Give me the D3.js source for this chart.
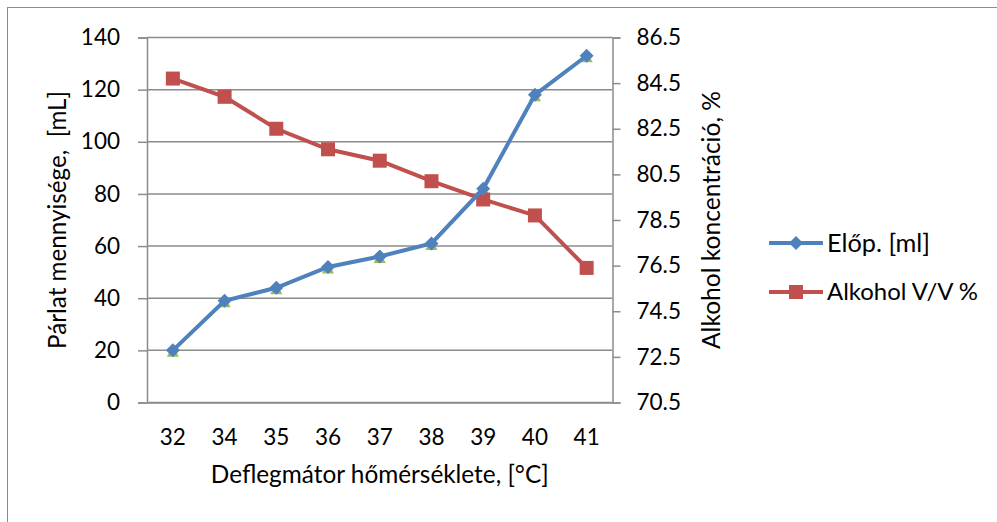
<!DOCTYPE html>
<html lang="hu">
<head>
<meta charset="utf-8">
<title>Deflegmátor</title>
<script src="https://d3js.org/d3.v7.min.js"></script>
<style>
	body { margin: 0; background: #fff; }
	text { font-family: Lato, "Open Sans", sans-serif; fill: #000; }
</style>
</head>
<body>
<div id="chart"></div>
<script>
// data
const temps = ["32", "34", "35", "36", "37", "38", "39", "40", "41"];
const elop = [20, 39, 44, 52, 56, 61, 82, 118, 133];
const alkohol = [84.7, 83.9, 82.5, 81.6, 81.1, 80.2, 79.4, 78.7, 76.4];
const leftTicks = [0, 20, 40, 60, 80, 100, 120, 140];
const rightTicks = [70.5, 72.5, 74.5, 76.5, 78.5, 80.5, 82.5, 84.5, 86.5];

const W = 997, H = 522;
const plot = {left: 147, right: 612.5, top: 37.5, bottom: 402.5};
const midY = (plot.top + plot.bottom) / 2, midX = (plot.left + plot.right) / 2;
const fs = 22.5;

const svg = d3.select("#chart").append("svg")
	.attr("width", W).attr("height", H);

// the chart font is Calibri in the original; scale each label so it takes the same length
function fit(sel, len) {
	let l = sel.node().getComputedTextLength();
	sel.attr("font-size", fs * len / l);
	return sel;
}

// outer chart border
svg.append("rect")
	.attr("x", 7.5).attr("y", 7.5)
	.attr("width", W).attr("height", H)
	.attr("fill", "none").attr("stroke", "#8c8c8c").attr("stroke-width", 1);

let x = d3.scaleBand().domain(temps).range([plot.left, plot.right]);
let yL = d3.scaleLinear().domain([0, 140]).range([plot.bottom, plot.top]);
let yR = d3.scaleLinear().domain([70.5, 86.5]).range([plot.bottom, plot.top]);

// gridlines
svg.append("g").selectAll("line")
	.data(leftTicks)
	.enter().append("line")
	.attr("x1", plot.left).attr("x2", plot.right)
	.attr("y1", d => yL(d)).attr("y2", d => yL(d))
	.attr("stroke", "#8c8c8c").attr("stroke-width", 1.5);

// left axis
let axL = svg.append("g")
	.attr("transform", `translate(${plot.left},0)`)
	.call(d3.axisLeft(yL).tickValues(leftTicks).tickSize(9).tickPadding(18));
// right axis
let axR = svg.append("g")
	.attr("transform", `translate(${plot.right},0)`)
	.call(d3.axisRight(yR).tickValues(rightTicks).tickFormat(d3.format(".1f")).tickSize(8).tickPadding(16));
// bottom axis
let axB = svg.append("g")
	.attr("transform", `translate(0,${plot.bottom})`)
	.call(d3.axisBottom(x).tickSize(0).tickPadding(27));

[axL, axR, axB].forEach(a => {
	a.select(".domain").attr("stroke", "#8c8c8c").attr("stroke-width", 1.5);
	a.selectAll(".tick line").attr("stroke", "#8c8c8c").attr("stroke-width", 1.5);
	a.selectAll(".tick text").style("font-family", "Lato, sans-serif").attr("font-size", fs).attr("fill", "#000");
});

// axis titles, centred on the plot area
fit(svg.append("text")
	.attr("transform", `translate(66,${midY}) rotate(-90)`)
	.attr("text-anchor", "middle").attr("font-size", fs)
	.style("white-space", "pre")
	.text("Párlat mennyisége,  [mL]"), 258);
fit(svg.append("text")
	.attr("transform", `translate(720,${midY}) rotate(-90)`)
	.attr("text-anchor", "middle").attr("font-size", fs)
	.text("Alkohol koncentráció, %"), 258);
fit(svg.append("text")
	.attr("x", midX).attr("y", 483)
	.attr("text-anchor", "middle").attr("font-size", fs)
	.text("Deflegmátor hőmérséklete, [°C]"), 338);

const cx = d => x(d) + x.bandwidth() / 2;
const blue = "#4f81bd", red = "#c0504d", green = "#9bbb59";

// hidden green series (triangles under the blue markers)
svg.append("g").selectAll("path")
	.data(elop)
	.enter().append("path")
	.attr("transform", (d, i) => `translate(${cx(temps[i])},${yL(d) + 1})`)
	.attr("d", "M0,-6L6,5.5L-6,5.5Z")
	.attr("fill", green);

// red series
svg.append("path")
	.datum(alkohol)
	.attr("fill", "none").attr("stroke", red).attr("stroke-width", 4)
	.attr("d", d3.line().x((d, i) => cx(temps[i])).y(d => yR(d)));
svg.append("g").selectAll("rect")
	.data(alkohol)
	.enter().append("rect")
	.attr("x", (d, i) => cx(temps[i]) - 7).attr("y", d => yR(d) - 7)
	.attr("width", 14).attr("height", 14)
	.attr("fill", red);

// blue series
svg.append("path")
	.datum(elop)
	.attr("fill", "none").attr("stroke", blue).attr("stroke-width", 4)
	.attr("d", d3.line().x((d, i) => cx(temps[i])).y(d => yL(d)));
svg.append("g").selectAll("path")
	.data(elop)
	.enter().append("path")
	.attr("transform", (d, i) => `translate(${cx(temps[i])},${yL(d)})`)
	.attr("d", "M0,-7L7,0L0,7L-7,0Z")
	.attr("fill", blue);

// legend
let legend = svg.append("g");
legend.append("line").attr("x1", 769).attr("x2", 823).attr("y1", 243).attr("y2", 243)
	.attr("stroke", blue).attr("stroke-width", 4);
legend.append("path").attr("transform", "translate(796,243)").attr("d", "M0,-7L7,0L0,7L-7,0Z").attr("fill", blue);
fit(legend.append("text").attr("x", 827).attr("y", 243).attr("dy", "0.35em").attr("font-size", fs).text("Előp. [ml]"), 103);
legend.append("line").attr("x1", 769).attr("x2", 823).attr("y1", 292).attr("y2", 292)
	.attr("stroke", red).attr("stroke-width", 4);
legend.append("rect").attr("x", 789).attr("y", 285).attr("width", 14).attr("height", 14).attr("fill", red);
fit(legend.append("text").attr("x", 827).attr("y", 292).attr("dy", "0.35em").attr("font-size", fs).text("Alkohol V/V %"), 151);
</script>
</body>
</html>
